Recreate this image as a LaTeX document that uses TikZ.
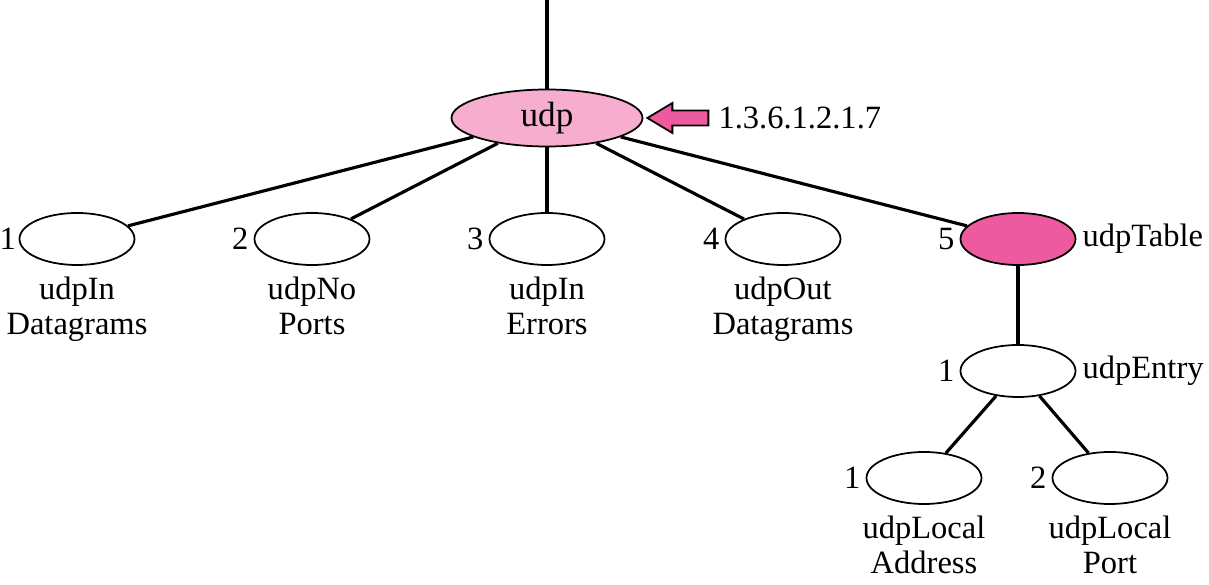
\documentclass[tikz,border=0pt]{standalone}
\usepackage{fontspec}
\setmainfont{Liberation Serif}
\usetikzlibrary{positioning,shapes.geometric}
\definecolor{lightpink}{RGB}{246,173,206}
\definecolor{deeppink}{RGB}{238,90,160}

\begin{document}
\begin{tikzpicture}[node distance=2.42cm,on grid,auto,font=\fontsize{18.5}{20}\selectfont]
    \tikzset{obj/.style={draw,ellipse,line width=1pt,inner sep=0pt,minimum width=2.3cm,minimum height=1.04cm}}
    \tikzset{link/.style={line width=1.8pt}}
    \tikzset{num/.style={label={[label distance=-0.5pt]left:#1}}}
    \tikzset{objtag/.style={label={[align=center,label distance=0.1cm]below:#1}}}
    \useasboundingbox (-10.94,-9.34) rectangle (13.24,2.36);
    \node[obj,fill=lightpink,minimum width=3.82cm,minimum height=1.14cm,font=\fontsize{20}{22}\selectfont] (udp) {udp};
    \coordinate (root) at (0,2.36);
    \node[obj] (c3) [below = of udp,num=3,objtag={udpIn\\Errors}] {};
    \node[obj] (c2) [left = 4.7cm of c3,num=2,objtag={udpNo\\Ports}] {};
    \node[obj] (c1) [left = 4.7cm of c2,label={[label distance=-2pt]left:1},objtag={udpIn\\Datagrams}] {};
    \node[obj] (c4) [right = 4.72cm of c3,num=4,objtag={udpOut\\Datagrams}] {};
    \node[obj,fill=deeppink] (c5) [right = 4.7cm of c4,num=5,label=right:udpTable] {};
    \node[obj] (entry) [below = 2.64cm of c5,num=1,label=right:udpEntry] {};
    \node[obj] (addr) [below left = 2.14cm and 1.88cm of entry,num=1,objtag={udpLocal\\Address}] {};
    \node[obj] (port) [below right = 2.14cm and 1.84cm of entry,num=2,objtag={udpLocal\\Port}] {};
    % pointer to the udp node
    \draw[line width=1pt,fill=deeppink] ([xshift=0.08cm]udp.east) coordinate (tip)
      -- ++(0.5,0.3) -- ++(0,-0.15) -- ++(0.72,0) -- ++(0,-0.3) -- ++(-0.72,0) -- ++(0,-0.15) -- cycle;
    \node[anchor=west] (oid) at ([xshift=1.3cm]tip) {1.3.6.1.2.1.7};
    \path[link]
    (root) edge (udp)
    (udp)
    edge (c1)
    edge (c2)
    edge (c3)
    edge (c4)
    edge (c5)
    (c5) edge (entry)
    (entry)
    edge (addr)
    edge (port)
    ;
\end{tikzpicture}
\end{document}
